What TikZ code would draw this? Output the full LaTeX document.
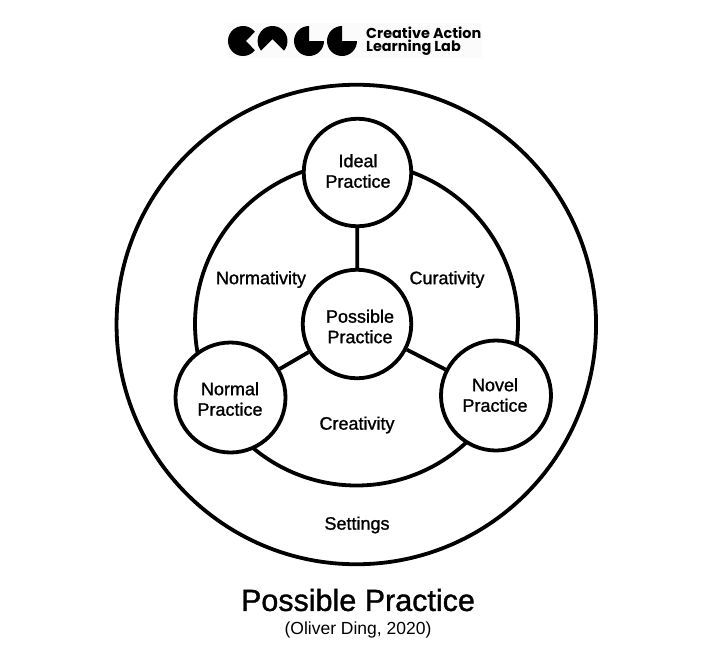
\documentclass[tikz,border=0pt]{standalone}
\usepackage{fontspec}
\setmainfont{Liberation Sans}
\newfontfamily\labfont[FakeBold=1.2]{Liberation Sans}
\newfontfamily\titlefont[FakeBold=1.2]{Liberation Sans}
\newfontfamily\logofont{Poppins}
\begin{document}
\begin{tikzpicture}[x=1pt,y=-1pt,
 ring/.style={draw=black,line width=3.8pt,fill=white,circle,inner sep=0pt},
 lab/.style={font=\labfont\fontsize{18}{20.5}\selectfont,inner sep=0pt,align=center},
 link/.style={draw=black,line width=3.8pt},
 logoshape/.style={fill=black,draw=none},
 logotext/.style={anchor=west,inner sep=0pt,font=\logofont\bfseries\fontsize{14.4}{15}\selectfont}]
\useasboundingbox (0,0) rectangle (720,648);
\fill[black!1.5] (227,23) rectangle (482,58);
\fill[logoshape] (243,41) ++(38:15) arc (38:322:15) -- (246,41) -- cycle;
\fill[logoshape] (272.5,41) ++(40:15) arc (40:-220:15) -- (272.5,39) -- cycle;
\fill[logoshape] (309,41) ++(0:15) arc (0:270:15) -- (309,41) -- cycle;
\fill[logoshape] (342,41) ++(0:15) arc (0:270:15) -- (342,41) -- cycle;
\node[logotext] (logo1) at (366,33) {Creative Action};
\node[logotext] (logo2) at (366,48) {Learning Lab};
\node[ring,minimum size=479.5pt] (outer) at (356.3,324.5) {};
\node[ring,minimum size=323pt] (mid) at (356.5,324) {};
\node[ring,minimum size=107.5pt] (ideal) at (357.5,172.5) {};
\node[ring,minimum size=108.5pt] (poss) at (357,324) {};
\node[ring,minimum size=110pt] (normal) at (230.5,397.5) {};
\node[ring,minimum size=110pt] (novel) at (496,395.5) {};
\draw[link] (ideal) -- (poss);
\draw[link] (poss) -- (normal);
\draw[link] (poss) -- (novel);
\node[lab] (idealtext) at (358,171) {Ideal\\Practice};
\node[lab] (posstext) at (360,326.5) {Possible\\Practice};
\node[lab] (normaltext) at (230,399) {Normal\\Practice};
\node[lab] (noveltext) at (495,395) {Novel\\Practice};
\node[lab] (n1) at (261,279.5) {Normativity};
\node[lab] (n2) at (447,279.5) {Curativity};
\node[lab] (n3) at (357,425) {Creativity};
\node[lab] (n4) at (357,525) {Settings};
\node[font=\titlefont\fontsize{30.5}{34}\selectfont,inner sep=0pt] (t) at (358,600) {Possible Practice};
\node[font=\fontsize{17.5}{20}\selectfont,inner sep=0pt] (s) at (358,629.5) {(Oliver Ding, 2020)};
\end{tikzpicture}
\end{document}
